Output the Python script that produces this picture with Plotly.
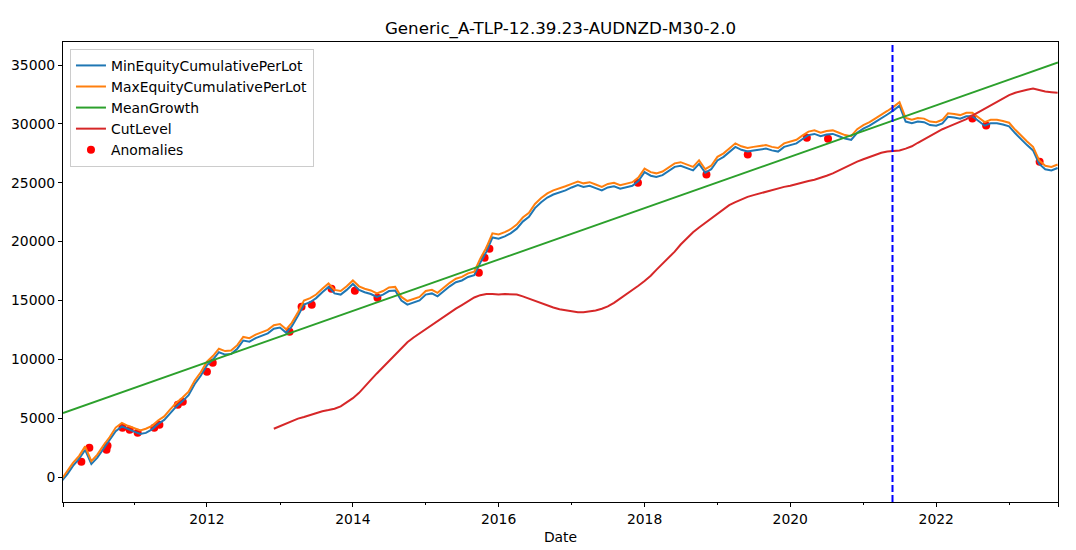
import pandas as pd
import plotly.graph_objects as go

# ---------------- data ----------------
month_start = "2010-01-01"
month_end = "2023-09-01"
cut_start = "2012-12-01"

max_equity = [
    -250, 500, 1200, 1800, 2600, 1350, 1900, 2700, 3400, 4200, 4600, 4350,
    4150, 3950, 4100, 4350, 4800, 5150, 5750, 6300, 6750, 7250, 8200, 8900,
    9800, 10300, 10900, 10700, 10750, 11200, 11900, 11800, 12100, 12300, 12500, 12900,
    13000, 12550, 13100, 14000, 15000, 15200, 15500, 16000, 16450, 15900, 15800, 16200,
    16700, 16200, 16000, 15850, 15600, 15800, 16100, 16150, 15300, 14950, 15100, 15300,
    15800, 15900, 15650, 16100, 16500, 16850, 17000, 17300, 17450, 18550, 19500, 20700,
    20600, 20800, 21050, 21450, 22050, 22450, 23200, 23700, 24100, 24350, 24500, 24700,
    24900, 25100, 24950, 25050, 24850, 24650, 24900, 25000, 24800, 24950, 25050, 25450,
    26200, 25900, 25800, 25950, 26300, 26650, 26750, 26550, 26350, 26900, 26150, 26450,
    27200, 27500, 27900, 28350, 28100, 27950, 28050, 28100, 28200, 28050, 27950, 28350,
    28500, 28650, 29000, 29350, 29450, 29250, 29400, 29450, 29250, 29050, 28950, 29550,
    29900, 30150, 30450, 30750, 31100, 31450, 31850, 30500, 30350, 30500, 30450, 30200,
    30150, 30350, 30900, 30850, 30750, 30950, 30950, 30550, 30150, 30350, 30350, 30250,
    30100, 29500, 29000, 28500, 28050, 26900, 26450, 26350, 26550,
]

min_equity = [
    -400, 250, 950, 1550, 2300, 1100, 1650, 2400, 3150, 3900, 4300, 4050,
    3850, 3650, 3750, 4050, 4500, 4850, 5450, 6000, 6450, 6950, 7900, 8600,
    9500, 10000, 10600, 10400, 10450, 10900, 11600, 11500, 11800, 12000, 12200, 12600,
    12700, 12250, 12800, 13700, 14650, 14850, 15200, 15700, 16150, 15600, 15500, 15900,
    16400, 15900, 15700, 15550, 15300, 15500, 15800, 15850, 15000, 14650, 14800, 15000,
    15500, 15600, 15350, 15800, 16200, 16550, 16700, 17000, 17150, 18200, 19150, 20350,
    20250, 20450, 20700, 21100, 21700, 22100, 22850, 23350, 23750, 24000, 24150, 24350,
    24600, 24800, 24650, 24750, 24550, 24350, 24600, 24700, 24500, 24650, 24750, 25150,
    25900, 25600, 25500, 25650, 26000, 26350, 26450, 26250, 26050, 26600, 25850, 26150,
    26900, 27200, 27600, 28050, 27800, 27650, 27750, 27800, 27900, 27750, 27650, 28050,
    28200, 28350, 28700, 29050, 29150, 28950, 29100, 29150, 28950, 28750, 28650, 29250,
    29600, 29850, 30150, 30450, 30800, 31150, 31550, 30200, 30050, 30200, 30150, 29900,
    29850, 30050, 30600, 30550, 30450, 30650, 30650, 30250, 29850, 30050, 30050, 29950,
    29800, 29200, 28700, 28200, 27750, 26600, 26150, 26050, 26250,
]

cut_level = [
    4100,
    4330, 4560, 4790, 4960, 5100, 5280, 5450, 5590, 5690, 5800, 6000, 6330,
    6700, 7150, 7700, 8250, 8800, 9350, 9900, 10450, 11000, 11450, 11850, 12200,
    12550, 12900, 13250, 13650, 13950, 14300, 14600, 14950, 15250, 15450, 15550, 15550,
    15500, 15550, 15550, 15500, 15350, 15150, 14950, 14750, 14550, 14400, 14250, 14150,
    14050, 14000, 14000, 14050, 14150, 14300, 14500, 14800, 15150, 15500, 15850, 16250,
    16650, 17100, 17600, 18100, 18600, 19150, 19750, 20300, 20800, 21200, 21600, 22000,
    22400, 22800, 23100, 23350, 23600, 23800, 23950, 24100, 24250, 24400, 24550, 24650,
    24750, 24900, 25000, 25150, 25250, 25400, 25600, 25800, 26050, 26300, 26600, 26800,
    27000, 27200, 27400, 27550, 27650, 27700, 27750, 27900, 28100, 28400, 28700, 29000,
    29300, 29550, 29750, 29950, 30150, 30400, 30700, 31000, 31300, 31600, 31900, 32200,
    32450, 32650, 32800, 32900, 33000, 32850, 32750, 32700, 32650,
]

mean_growth_dates = ["2010-01-10", "2023-09-03"]
mean_growth_values = [5440, 35225]

anomaly_dates = [
    "2010-04-12", "2010-05-22", "2010-08-16", "2010-08-21", "2010-11-04", "2010-12-10",
    "2011-01-19", "2011-04-12", "2011-05-08", "2011-08-08", "2011-09-02", "2012-01-01",
    "2012-01-30", "2013-02-18", "2013-04-19", "2013-06-09", "2013-09-16", "2014-01-11",
    "2014-05-04", "2015-09-24", "2015-10-23", "2015-11-16", "2017-11-29", "2018-11-07",
    "2019-06-02", "2020-03-24", "2020-07-08", "2022-07-01", "2022-09-08", "2023-06-03",
]
anomaly_values = [
    1300, 2490, 2320, 2660, 4190, 4020,
    3765, 4190, 4440, 6140, 6400, 8950,
    9710, 12340, 14470, 14640, 16000, 15830,
    15230, 17350, 18630, 19390, 25000, 25700,
    27400, 28830, 28750, 30460, 29860, 26790,
]

split_date = "2021-05-27"

x_range = ["2010-01-10", "2023-09-03"]
y_range = [-2124, 36960]
major_tick_vals = ["2010-01-10", "2012-01-01", "2014-01-01", "2016-01-01", "2018-01-01",
                   "2020-01-01", "2022-01-01", "2023-09-03"]
major_tick_text = ["", "2012", "2014", "2016", "2018", "2020", "2022", ""]
minor_tick_vals = ["2011-01-01", "2013-01-01", "2015-01-01", "2017-01-01", "2019-01-01",
                   "2021-01-01", "2023-01-01"]
y_ticks = [0, 5000, 10000, 15000, 20000, 25000, 30000, 35000]

title_text = "Generic_A-TLP-12.39.23-AUDNZD-M30-2.0"

# ---------------- figure ----------------
month_dates = pd.date_range(month_start, month_end, freq="MS")
cut_dates = pd.date_range(cut_start, month_end, freq="MS")

FONT = "DejaVu Sans"
FS = 13.9

fig = go.Figure()
fig.add_trace(go.Scatter(
    x=pd.to_datetime(anomaly_dates), y=anomaly_values, mode="markers",
    marker=dict(color="#ff0000", size=8), name="Anomalies", legendrank=5))
fig.add_trace(go.Scatter(
    x=month_dates, y=min_equity, mode="lines", line=dict(color="#1f77b4", width=2),
    name="MinEquityCumulativePerLot", legendrank=1))
fig.add_trace(go.Scatter(
    x=month_dates, y=max_equity, mode="lines", line=dict(color="#ff7f0e", width=2),
    name="MaxEquityCumulativePerLot", legendrank=2))
fig.add_trace(go.Scatter(
    x=pd.to_datetime(mean_growth_dates), y=mean_growth_values, mode="lines",
    line=dict(color="#2ca02c", width=2), name="MeanGrowth", legendrank=3))
fig.add_trace(go.Scatter(
    x=cut_dates, y=cut_level, mode="lines", line=dict(color="#d62728", width=2),
    name="CutLevel", legendrank=4))

fig.add_shape(type="line", xref="x", yref="paper", x0=split_date, x1=split_date,
              y0=0, y1=1, line=dict(color="#0000ff", width=2, dash="7px,3px"))

fig.update_layout(
    width=1076, height=550, autosize=False,
    margin=dict(l=63, r=18, t=42, b=48),
    paper_bgcolor="white", plot_bgcolor="white",
    font=dict(family=FONT, size=FS, color="black"),
    title=dict(text=title_text, x=0.5, xref="paper", xanchor="center",
               y=1 - 28 / 550, yanchor="middle", font=dict(size=16.7, family=FONT)),
    legend=dict(x=0.007, y=0.985, xanchor="left", yanchor="top",
                bgcolor="rgba(255,255,255,0.8)", bordercolor="#cccccc", borderwidth=1,
                font=dict(size=FS, family=FONT), traceorder="normal", itemwidth=30),
    showlegend=True,
)
fig.update_xaxes(
    type="date", range=x_range, showgrid=False, zeroline=False, automargin=False,
    showline=True, mirror=True, linecolor="black", linewidth=1,
    tickmode="array", tickvals=major_tick_vals, ticktext=major_tick_text,
    ticks="outside", ticklen=4, tickwidth=1, tickcolor="black",
    tickfont=dict(size=FS, family=FONT),
    minor=dict(tickmode="array", tickvals=minor_tick_vals, ticks="outside",
               ticklen=2, tickwidth=1, tickcolor="black", showgrid=False),
    title=dict(text="Date", standoff=6, font=dict(size=FS, family=FONT)),
)
fig.update_yaxes(
    range=y_range, showgrid=False, zeroline=False, automargin=False,
    showline=True, mirror=True, linecolor="black", linewidth=1,
    tickmode="array", tickvals=y_ticks, tickformat="d",
    ticks="outside", ticklen=4, tickwidth=1, tickcolor="black",
    tickfont=dict(size=FS, family=FONT),
)

fig.write_html("out.html")
